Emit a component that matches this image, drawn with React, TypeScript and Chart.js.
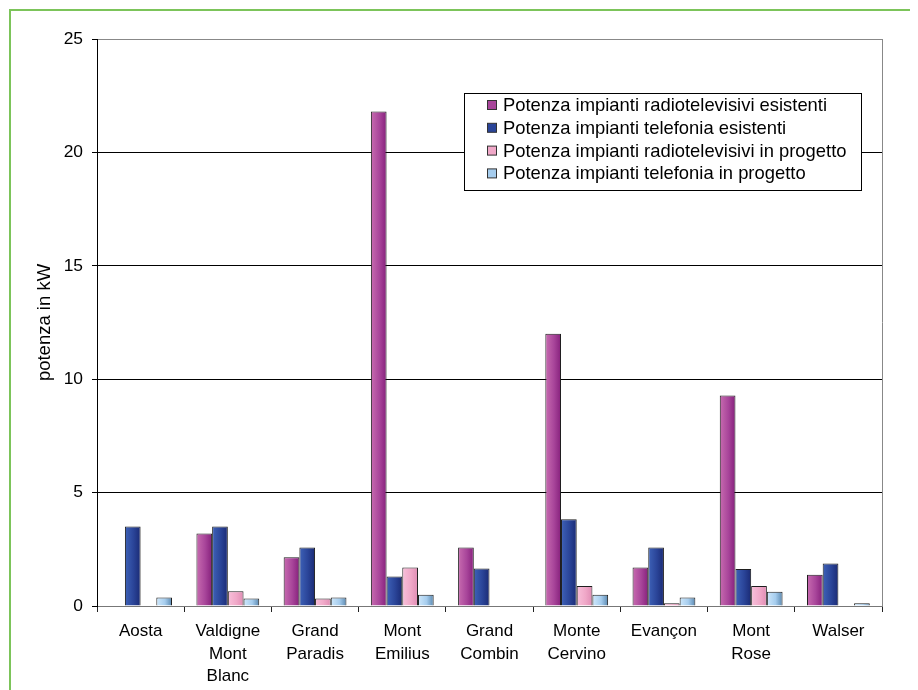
import React, { useEffect, useRef } from "react";
import { Chart, registerables } from "chart.js";

Chart.register(...registerables);

// Comunità montane della Valle d'Aosta
const categories: (string | string[])[] = [
  "Aosta",
  ["Valdigne", "Mont", "Blanc"],
  ["Grand", "Paradis"],
  ["Mont", "Emilius"],
  ["Grand", "Combin"],
  ["Monte", "Cervino"],
  "Evançon",
  ["Mont", "Rose"],
  "Walser",
];

const seriesLabels = [
  "Potenza impianti radiotelevisivi esistenti",
  "Potenza impianti telefonia esistenti",
  "Potenza impianti radiotelevisivi in progetto",
  "Potenza impianti telefonia in progetto",
];

// potenza in kW
const radioEsistenti = [0, 3.2, 2.15, 21.8, 2.58, 12.0, 1.7, 9.28, 1.38];
const telefoniaEsistenti = [3.5, 3.5, 2.58, 1.3, 1.65, 3.82, 2.58, 1.63, 1.87];
const radioProgetto = [0, 0.65, 0.33, 1.7, 0, 0.88, 0.12, 0.88, 0];
const telefoniaProgetto = [0.37, 0.33, 0.37, 0.5, 0, 0.5, 0.37, 0.63, 0.12];

const yTicks = [0, 5, 10, 15, 20, 25];

// shaded fills: light on the left edge, dark on the right edge
const shades: [string, string, string][] = [
  ["#c86cb0", "#a8459a", "#86207c"],
  ["#3e62b8", "#2a4498", "#1a2a74"],
  ["#f8c0da", "#f0a8c8", "#e08cb4"],
  ["#cfe8fb", "#a6cdee", "#5a88b0"],
];
const swatch = ["#a8459a", "#2a4498", "#f0a8c8", "#a6cdee"];

const CAT_PCT = 0.72;
const FONT = "'Liberation Sans', Arial, sans-serif";

function barFill(ctx: any) {
  const chart = ctx.chart;
  const ds = ctx.datasetIndex;
  const xScale = chart.scales?.x;
  if (!chart.chartArea || !xScale || ctx.dataIndex === undefined) return swatch[ds];
  const catW = xScale.width / categories.length;
  const barW = (catW * CAT_PCT) / 4;
  const center = xScale.getPixelForValue(ctx.dataIndex);
  const left = center - (catW * CAT_PCT) / 2 + ds * barW;
  const g = chart.ctx.createLinearGradient(left, 0, left + barW, 0);
  const [a, b, c] = shades[ds];
  g.addColorStop(0, a);
  g.addColorStop(0.55, b);
  g.addColorStop(1, c);
  return g;
}

const framePlugin = {
  id: "frame",
  beforeDraw(chart: any) {
    const { ctx } = chart;
    ctx.save();
    ctx.strokeStyle = "#7cc45a";
    ctx.lineWidth = 2;
    ctx.beginPath();
    ctx.moveTo(2, chart.height + 5);
    ctx.lineTo(2, 2);
    ctx.lineTo(chart.width + 5, 2);
    ctx.stroke();
    ctx.restore();
  },
  afterDraw(chart: any) {
    const { ctx, chartArea } = chart;
    ctx.save();
    ctx.strokeStyle = "#888";
    ctx.lineWidth = 1;
    ctx.beginPath();
    const x = Math.round(chartArea.right) + 0.5;
    ctx.moveTo(x, chartArea.top);
    ctx.lineTo(x, chartArea.bottom);
    ctx.stroke();
    ctx.restore();
  },
};

const boxLegendPlugin = {
  id: "boxLegend",
  afterDatasetsDraw(chart: any) {
    const { ctx } = chart;
    const x = 456.5;
    const y = 85.5;
    const w = 397;
    const h = 97;
    ctx.save();
    ctx.fillStyle = "#fff";
    ctx.fillRect(x, y, w, h);
    ctx.strokeStyle = "#000";
    ctx.lineWidth = 1;
    ctx.strokeRect(x, y, w, h);
    ctx.font = `18.4px ${FONT}`;
    ctx.textBaseline = "middle";
    ctx.fillStyle = "#000";
    chart.data.datasets.forEach((d: any, i: number) => {
      const cy = 97 + i * 22.8;
      ctx.fillStyle = swatch[i];
      ctx.fillRect(479.5, cy - 4.5, 9, 9);
      ctx.strokeStyle = "#333";
      ctx.strokeRect(479.5, cy - 4.5, 9, 9);
      ctx.fillStyle = "#000";
      ctx.fillText(d.label, 495, cy + 1);
    });
    ctx.restore();
  },
};

export default function App() {
  const ref = useRef<HTMLCanvasElement | null>(null);

  useEffect(() => {
    if (!ref.current) return;
    const values = [radioEsistenti, telefoniaEsistenti, radioProgetto, telefoniaProgetto];
    const chart = new Chart(ref.current, {
      type: "bar",
      data: {
        labels: categories,
        datasets: values.map((v, i) => ({
          label: seriesLabels[i],
          data: v,
          backgroundColor: barFill,
          borderColor: "#1e1e1e",
          borderWidth: 1,
          borderSkipped: "start",
          categoryPercentage: CAT_PCT,
          barPercentage: 1,
        })),
      },
      options: {
        animation: false,
        responsive: false,
        maintainAspectRatio: false,
        layout: { padding: { top: 31, right: 36, bottom: 0, left: 0 } },
        plugins: {
          legend: { display: false },
          tooltip: { enabled: false },
        },
        scales: {
          x: {
            grid: {
              offset: true,
              drawOnChartArea: false,
              drawTicks: true,
              tickLength: 6,
              color: "#222",
            },
            border: { color: "#777", width: 1 },
            ticks: {
              color: "#000",
              font: { family: FONT, size: 17, lineHeight: 1.33 },
              padding: 8,
              maxRotation: 0,
              autoSkip: false,
            },
            afterFit: (s: any) => {
              s.height = 84;
            },
          },
          y: {
            min: 0,
            max: 25,
            afterBuildTicks: (s: any) => {
              s.ticks = yTicks.map((v) => ({ value: v }));
            },
            grid: {
              color: (c: any) => (c.tick && (c.tick.value === 25 || c.tick.value === 0) ? "#888" : "#000"),
              tickColor: "#000",
              tickLength: 5,
              lineWidth: 1,
            },
            border: { color: "#000", width: 1 },
            ticks: {
              color: "#000",
              font: { family: FONT, size: 17.4 },
              padding: 9,
            },
            title: {
              display: true,
              text: "potenza in kW",
              color: "#000",
              font: { family: FONT, size: 18.5 },
              padding: { top: 26, bottom: 0 },
            },
            afterFit: (s: any) => {
              s.width = 89;
            },
          },
        },
      },
      plugins: [framePlugin, boxLegendPlugin],
    });
    return () => chart.destroy();
  }, []);

  return (
    <div style={{ width: 910, height: 682, position: "relative", background: "#fff" }}>
      <canvas ref={ref} width={910} height={682} style={{ display: "block" }} />
    </div>
  );
}
